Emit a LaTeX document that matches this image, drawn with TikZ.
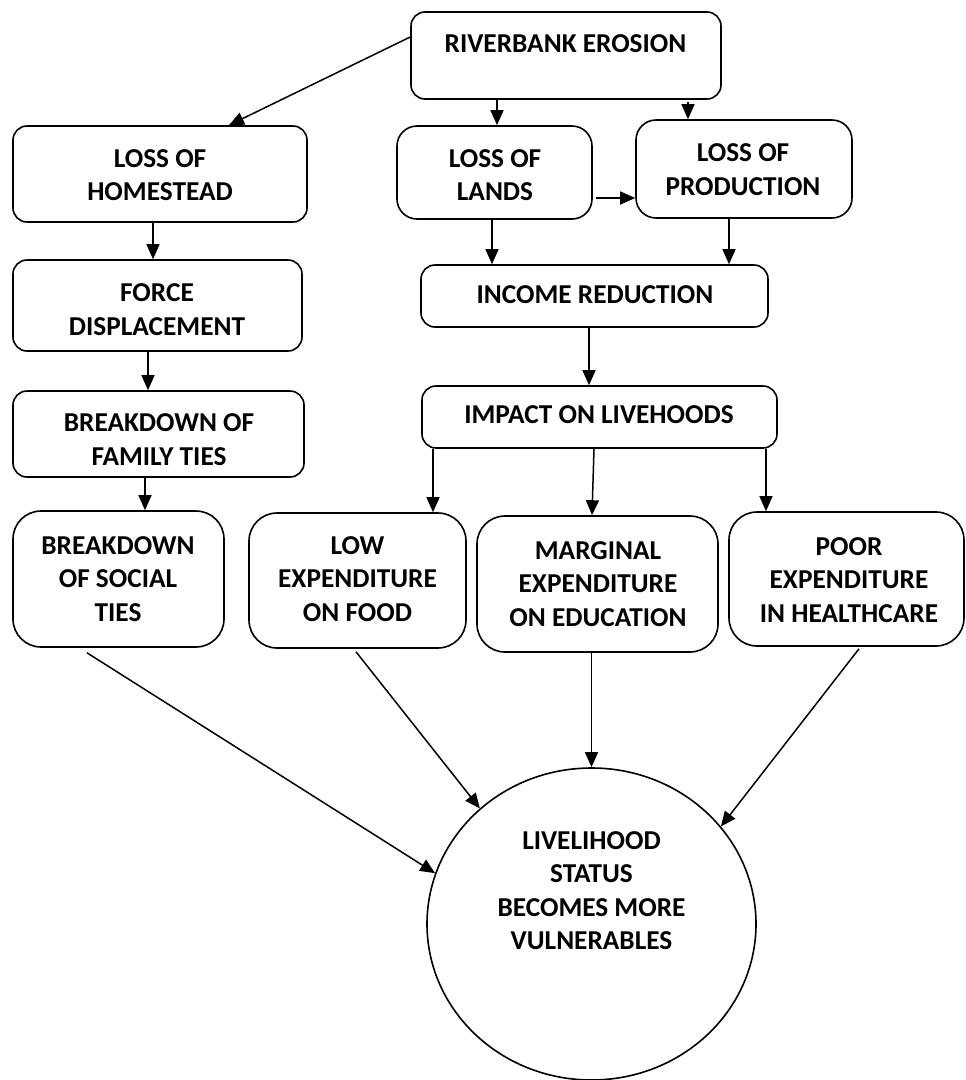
\documentclass[tikz,border=0pt]{standalone}
\usepackage{fontspec}
\setmainfont{Carlito}
\usetikzlibrary{arrows.meta,shapes.geometric}
\begin{document}
\begin{tikzpicture}[x=1pt,y=-1pt,
  box/.style={draw,line width=1.6pt,rounded corners=#1,inner sep=0pt},
  box/.default=14pt,
  lbl/.style={font=\fontsize{27.3}{33.5}\selectfont\bfseries,align=center,inner sep=0pt},
  arr/.style={line width=1.5pt,-{Triangle[length=15pt,width=13pt]}},
  circ/.style={draw,line width=1.6pt,ellipse,inner sep=0pt}]
\useasboundingbox (0,0) rectangle (966,1080);

% boxes
\node[box,minimum width=310pt,minimum height=87pt] (re) at (566,55.5) {};
\node[box,minimum width=294pt,minimum height=96pt] (home) at (160,174) {};
\node[box=20pt,minimum width=195pt,minimum height=93pt] (lands) at (494.5,172.5) {};
\node[box=20pt,minimum width=216pt,minimum height=98pt] (prod) at (744,169) {};
\node[box,minimum width=289pt,minimum height=91pt] (force) at (157.5,305.5) {};
\node[box,minimum width=347pt,minimum height=62pt] (income) at (594.5,296) {};
\node[box,minimum width=291pt,minimum height=86pt] (family) at (158.5,434) {};
\node[box,minimum width=355pt,minimum height=62pt] (impact) at (599.5,417) {};
\node[box=28pt,minimum width=211pt,minimum height=136pt] (social) at (118.5,579) {};
\node[box=28pt,minimum width=217pt,minimum height=135pt] (food) at (357.5,580.5) {};
\node[box=28pt,minimum width=241pt,minimum height=136pt] (edu) at (597.5,584) {};
\node[box=28pt,minimum width=235pt,minimum height=134pt] (health) at (846.5,579) {};
\node[circ,minimum width=329pt,minimum height=312pt] (circ) at (591.5,924) {};

% labels
\node[lbl] (tre) at (565.5,44) {RIVERBANK EROSION};
\node[lbl] (thome) at (160,175) {LOSS OF\\HOMESTEAD};
\node[lbl] (tlands) at (495,175) {LOSS OF\\LANDS};
\node[lbl] (tprod) at (743,169.5) {LOSS OF\\PRODUCTION};
\node[lbl] (tforce) at (157,309.5) {FORCE\\DISPLACEMENT};
\node[lbl] (tincome) at (595,295) {INCOME REDUCTION};
\node[lbl] (tfamily) at (159,439.5) {BREAKDOWN OF\\FAMILY TIES};
\node[lbl] (timpact) at (599,415) {IMPACT ON LIVEHOODS};
\node[lbl] (tsocial) at (118,579) {BREAKDOWN\\OF SOCIAL\\TIES};
\node[lbl] (tfood) at (357.5,579) {LOW\\EXPENDITURE\\ON FOOD};
\node[lbl] (tedu) at (598,584) {MARGINAL\\EXPENDITURE\\ON EDUCATION};
\node[lbl] (thealth) at (849,580) {POOR\\EXPENDITURE\\IN HEALTHCARE};
\node[lbl] (tcirc) at (591.5,890.5) {LIVELIHOOD\\STATUS\\BECOMES MORE\\VULNERABLES};

% connectors
\draw[arr] ([yshift=18.5pt]re.west) -- ([xshift=69pt]home.north);
\draw[arr] ([xshift=-69pt]re.south) -- ([xshift=2.5pt]lands.north);
\draw[arr] ([xshift=122pt,yshift=-2pt]re.south) -- ([xshift=-56pt]prod.north);
\draw[arr] ([xshift=3pt,yshift=-25.5pt]lands.east) -- ([yshift=-29pt]prod.west);
\draw[arr] ([xshift=-2.5pt]lands.south) -- ([xshift=-102.5pt]income.north);
\draw[arr] ([xshift=-15pt]prod.south) -- ([xshift=134.5pt]income.north);
\draw[arr] ([xshift=-5.5pt]income.south) -- ([xshift=-10.5pt]impact.north);
\draw[arr] ([xshift=-166.5pt]impact.south) -- ([xshift=75.5pt]food.north);
\draw[arr] ([xshift=-5.5pt]impact.south) -- ([xshift=-5.5pt]edu.north);
\draw[arr] ([xshift=166.5pt]impact.south) -- ([xshift=-80.5pt]health.north);
\draw[arr] ([xshift=-7pt]home.south) -- ([xshift=-4.5pt]force.north);
\draw[arr] ([xshift=-9.5pt]force.south) -- ([xshift=-10.5pt]family.north);
\draw[arr] ([xshift=-13.5pt]family.south) -- ([xshift=26.5pt]social.north);
\draw[arr] ([xshift=-31.5pt,yshift=-5pt]social.south) -- (circ.162.4);
\draw[arr] ([xshift=-1.5pt,yshift=-3pt]food.south) -- (circ.134.4);
\draw[arr] ([xshift=-6pt]edu.south) -- (circ.north);
\draw[arr] ([xshift=12.5pt,yshift=-2pt]health.south) -- (circ.37.5);
\end{tikzpicture}
\end{document}
